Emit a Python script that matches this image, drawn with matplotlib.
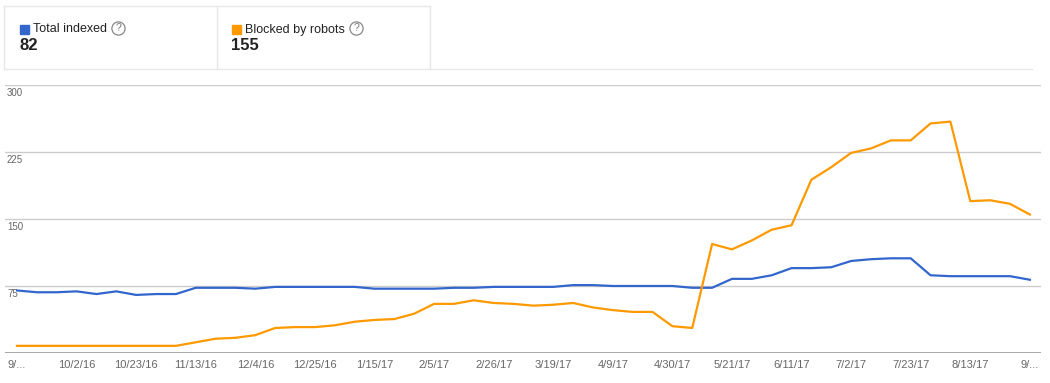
import matplotlib.pyplot as plt
from matplotlib.patches import Rectangle

# weekly points, 9/11/16 .. 9/3/17
tick_labels = ['9/...', '10/2/16', '10/23/16', '11/13/16', '12/4/16', '12/25/16',
               '1/15/17', '2/5/17', '2/26/17', '3/19/17', '4/9/17', '4/30/17',
               '5/21/17', '6/11/17', '7/2/17', '7/23/17', '8/13/17', '9/...']

total_indexed = [70, 68, 68, 69, 66, 69, 65, 66, 66, 73, 73, 73, 72, 74, 74, 74,
                 74, 74, 72, 72, 72, 72, 73, 73, 74, 74, 74, 74, 76, 76, 75, 75,
                 75, 75, 73, 73, 83, 83, 87, 95, 95, 96, 103, 105, 106, 106,
                 87, 86, 86, 86, 86, 82]

blocked = [8, 8, 8, 8, 8, 8, 8, 8, 8, 12, 16, 17, 20, 28, 29, 29, 31, 35, 37,
           38, 44, 55, 55, 59, 56, 55, 53, 54, 56, 51, 48, 46, 46, 30, 28,
           122, 116, 126, 138, 143, 194, 208, 224, 229, 238, 238, 257, 259,
           170, 171, 167, 155]

blue = '#3366cc'
orange = '#ff9900'

plt.rcParams['font.family'] = ['Liberation Sans', 'DejaVu Sans']

W, H = 1050, 383
fig = plt.figure(figsize=(W / 100, H / 100), dpi=100)


def fx(px):
    return px / W


def fy(py):
    return 1 - py / H


# header boxes
line_c = '#e8e8e8'
fig.add_artist(plt.Line2D([fx(4), fx(430)], [fy(6), fy(6)], color=line_c, lw=1))
fig.add_artist(plt.Line2D([fx(4), fx(1032)], [fy(69), fy(69)], color=line_c, lw=1))
for xv in (4, 217, 430):
    fig.add_artist(plt.Line2D([fx(xv), fx(xv)], [fy(6), fy(69)], color=line_c, lw=1))

legend = [(20, blue, 'Total indexed', '82', 118.5),
          (232, orange, 'Blocked by robots', '155', 356)]
for x0, c, name, val, qx in legend:
    fig.add_artist(Rectangle((fx(x0), fy(34)), fx(9), 9 / H, color=c,
                             transform=fig.transFigure))
    fig.text(fx(x0 + 13), fy(29.5), name, fontsize=9, color='#222222', va='center')
    fig.text(fx(x0 - 1), fy(46), val, fontsize=12, fontweight='bold',
             color='#222222', va='center')
    fig.add_artist(plt.Line2D([fx(qx)], [fy(28)], marker='o', ms=9.5,
                              mfc='none', mec='#888888', mew=0.9))
    fig.text(fx(qx), fy(28), '?', fontsize=7.5, color='#777777',
             ha='center', va='center')

# chart
ax = fig.add_axes([fx(5), fy(353), fx(1036), 268 / H])
x = list(range(len(blocked)))
ax.plot(x, total_indexed, color=blue, lw=1.6, zorder=3)
ax.plot(x, blocked, color=orange, lw=1.6, zorder=3)

ax.set_xlim((5 - 17) / 19.86, (1041 - 17) / 19.86)
ax.set_ylim(0, 300)
for sp in ax.spines.values():
    sp.set_visible(False)
ax.axhline(0, color='#999999', lw=1.2, zorder=2)
for yv in (75, 150, 225, 300):
    ax.axhline(yv, color='#cccccc', lw=1, zorder=1)
    ax.text(2 / 19.86 + (5 - 17) / 19.86, yv - 3, str(yv), fontsize=7,
            color='#666666', va='top', ha='left')

ax.set_yticks([])
ax.set_xticks(range(0, len(blocked), 3))
ax.set_xticklabels(tick_labels, fontsize=8, color='#666666')
ax.tick_params(axis='x', length=0, pad=5)

fig.savefig('out.png', dpi=100)
